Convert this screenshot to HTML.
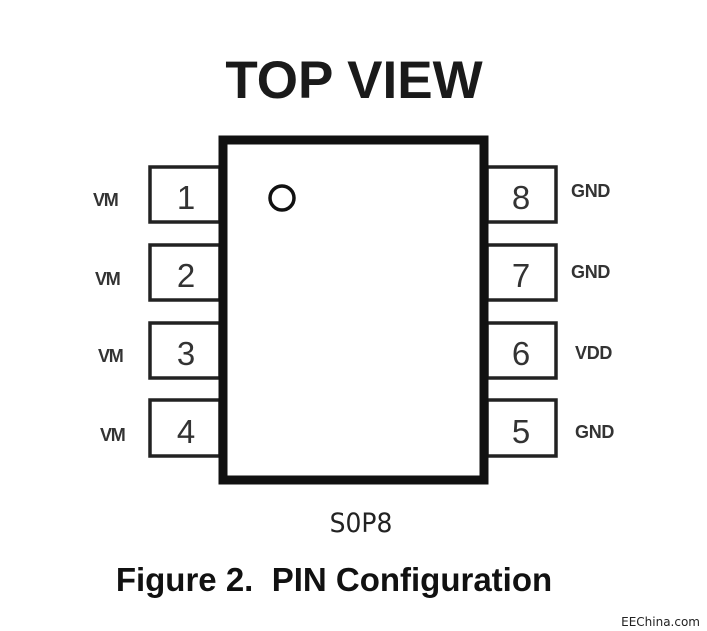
<!DOCTYPE html>
<html><head><meta charset="utf-8"><style>
html,body{margin:0;padding:0;background:#fff;}
svg{display:block;}
</style></head><body>
<svg width="707" height="631" viewBox="0 0 707 631" xmlns="http://www.w3.org/2000/svg">
<rect width="707" height="631" fill="#fff"/>
<text x="354" y="98" text-anchor="middle" font-family="Liberation Sans, sans-serif" font-weight="bold" font-size="53" fill="#1a1a1a">TOP VIEW</text>
<g fill="#fff" stroke="#222" stroke-width="3.5">
<rect x="150" y="167" width="70" height="55"/>
<rect x="150" y="245" width="70" height="55"/>
<rect x="150" y="323" width="70" height="55"/>
<rect x="150" y="400" width="70" height="56"/>
<rect x="487" y="167" width="69" height="55"/>
<rect x="487" y="245" width="69" height="55"/>
<rect x="487" y="323" width="69" height="55"/>
<rect x="487" y="400" width="69" height="56"/>
</g>
<rect x="223" y="140" width="261" height="340" fill="#fff" stroke="#111" stroke-width="9"/>
<circle cx="282" cy="198" r="12" fill="none" stroke="#111" stroke-width="3.5"/>
<g font-family="Liberation Sans, sans-serif" font-size="33" fill="#333" text-anchor="middle">
<text x="186" y="209">1</text>
<text x="186" y="287">2</text>
<text x="186" y="365">3</text>
<text x="186" y="443">4</text>
<text x="521" y="209">8</text>
<text x="521" y="287">7</text>
<text x="521" y="365">6</text>
<text x="521" y="443">5</text>
</g>
<g font-family="Liberation Sans, sans-serif" font-size="18" font-weight="bold" fill="#333">
<text x="93" y="206" letter-spacing="-1.2">VM</text>
<text x="95" y="285" letter-spacing="-1.2">VM</text>
<text x="98" y="362" letter-spacing="-1.2">VM</text>
<text x="100" y="441" letter-spacing="-1.2">VM</text>
<text x="571" y="197" letter-spacing="-0.3">GND</text>
<text x="571" y="278" letter-spacing="-0.3">GND</text>
<text x="575" y="359" letter-spacing="-0.3">VDD</text>
<text x="575" y="438" letter-spacing="-0.3">GND</text>
</g>
<text x="361" y="532" text-anchor="middle" font-family="DejaVu Sans, sans-serif" font-size="25" fill="#222" transform="translate(361 532) scale(1 1.05) translate(-361 -532)">S0P8</text>
<text x="334" y="591" text-anchor="middle" font-family="Liberation Sans, sans-serif" font-weight="bold" font-size="33" fill="#111" xml:space="preserve">Figure 2.  PIN Configuration</text>
<text x="700" y="626" text-anchor="end" font-family="DejaVu Sans, sans-serif" font-size="12" fill="#222">EEChina.com</text>
</svg>
</body></html>
